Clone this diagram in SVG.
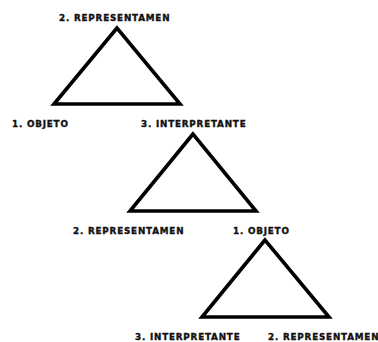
<svg xmlns="http://www.w3.org/2000/svg" width="378" height="342" viewBox="0 0 378 342">
<style>
.tri{fill:none;stroke:#000;stroke-width:3.6;stroke-linejoin:miter;stroke-miterlimit:10}
.lbl{font-family:"DejaVu Sans","Liberation Sans",sans-serif;font-weight:bold;font-size:8.8px;letter-spacing:0.8px;fill:#111;stroke:#111;stroke-width:0.35}
</style>
<rect width="378" height="342" fill="#fff"/>
<g id="triangle-1"><polygon class="tri" points="117,28 54,104 180,104"/></g>
<g id="triangle-2"><polygon class="tri" points="193,134 130,211 256,211"/></g>
<g id="triangle-3"><polygon class="tri" points="265,240 202,317 329,317"/></g>
<g id="label-representamen-1"><text class="lbl" x="59" y="20.5">2. REPRESENTAMEN</text></g>
<g id="label-objeto-1"><text class="lbl" x="12" y="127">1. OBJETO</text></g>
<g id="label-interpretante-1"><text class="lbl" x="141" y="127">3. INTERPRETANTE</text></g>
<g id="label-representamen-2"><text class="lbl" x="73" y="234">2. REPRESENTAMEN</text></g>
<g id="label-objeto-2"><text class="lbl" x="233" y="234">1. OBJETO</text></g>
<g id="label-interpretante-2"><text class="lbl" x="135" y="340">3. INTERPRETANTE</text></g>
<g id="label-representamen-3"><text class="lbl" x="268" y="340">2. REPRESENTAMEN</text></g>
</svg>
